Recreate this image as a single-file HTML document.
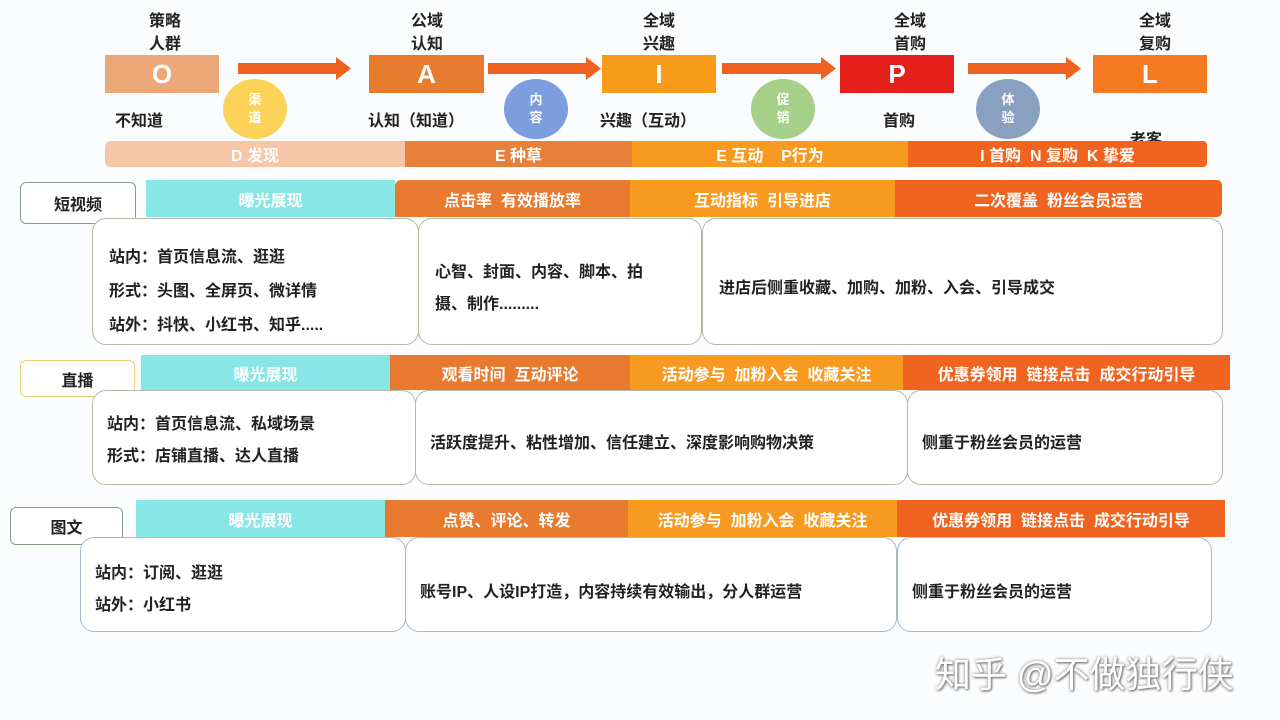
<!DOCTYPE html>
<html><head><meta charset="utf-8"><style>
body{margin:0;width:1280px;height:720px;background:#fbfcfd;position:relative;overflow:hidden;font-family:"Liberation Sans","Noto Sans CJK SC",sans-serif;}
.a{position:absolute;}
.t{position:absolute;font-size:16px;color:#222;font-weight:bold;}
.tc{position:absolute;font-size:16px;color:#222;font-weight:bold;text-align:center;line-height:23px;}
.box{position:absolute;color:#fff;font-size:26px;font-weight:bold;display:flex;align-items:center;justify-content:center;}
.bar{position:absolute;color:#fff;font-size:16px;font-weight:bold;display:flex;align-items:center;justify-content:center;}
.cir{position:absolute;width:64px;height:60px;border-radius:50%;color:#fff;font-size:13px;font-weight:bold;display:flex;align-items:center;justify-content:center;text-align:center;line-height:18px;}
.cb{position:absolute;border:1.5px solid #b8b8a8;border-radius:14px;background:#fff;box-sizing:border-box;font-size:16px;color:#222;font-weight:bold;}
.lb{position:absolute;border:1.5px solid #8a9a8a;border-radius:6px;background:#fff;box-sizing:border-box;font-size:16px;font-weight:bold;color:#222;display:flex;align-items:center;justify-content:center;}
</style></head><body>
<div class="tc" style="left:135px;top:10px;width:60px">策略<br>人群</div>
<div class="tc" style="left:397px;top:10px;width:60px">公域<br>认知</div>
<div class="tc" style="left:629px;top:10px;width:60px">全域<br>兴趣</div>
<div class="tc" style="left:880px;top:10px;width:60px">全域<br>首购</div>
<div class="tc" style="left:1125px;top:10px;width:60px">全域<br>复购</div>
<div class="box" style="left:105px;top:55px;width:114px;height:38px;background:#eea878">O</div>
<div class="box" style="left:369px;top:55px;width:115px;height:38px;background:#e87c2e">A</div>
<div class="box" style="left:602px;top:55px;width:114px;height:38px;background:#f89a1a">I</div>
<div class="box" style="left:840px;top:55px;width:114px;height:38px;background:#e5201a">P</div>
<div class="box" style="left:1093px;top:55px;width:114px;height:38px;background:#f57a22">L</div>
<svg class="a" style="left:0;top:0" width="1280" height="120">
<g fill="#f0601e">
<rect x="238" y="63" width="98" height="11"/><polygon points="336,57 351,68.5 336,80"/>
<rect x="488" y="63" width="98" height="11"/><polygon points="586,57 601,68.5 586,80"/>
<rect x="722" y="63" width="99" height="11"/><polygon points="821,57 836,68.5 821,80"/>
<rect x="968" y="63" width="98" height="11"/><polygon points="1066,57 1081,68.5 1066,80"/>
</g></svg>
<div class="cir" style="left:223px;top:79px;background:#fcd258">渠<br>道</div>
<div class="cir" style="left:504px;top:79px;background:#7c9ede">内<br>容</div>
<div class="cir" style="left:751px;top:79px;background:#a6d088">促<br>销</div>
<div class="cir" style="left:976px;top:79px;background:#8aa0c0">体<br>验</div>
<div class="t" style="left:115px;top:107px">不知道</div>
<div class="t" style="left:368px;top:107px">认知（知道）</div>
<div class="t" style="left:600px;top:107px">兴趣（互动）</div>
<div class="t" style="left:883px;top:107px">首购</div>
<div class="t" style="left:1130px;top:126px">老客</div>
<div class="bar" style="left:105px;top:141px;width:300px;height:26px;background:#f6c6a6;border-radius:6px 0 0 6px">D 发现</div>
<div class="bar" style="left:405px;top:141px;width:227px;height:26px;background:#e8803a">E 种草</div>
<div class="bar" style="left:632px;top:141px;width:276px;height:26px;background:#f89a20">E 互动&nbsp;&nbsp;&nbsp;&nbsp;P行为</div>
<div class="bar" style="left:908px;top:141px;width:299px;height:26px;background:#f06420;border-radius:0 4px 4px 0">I 首购&nbsp; N 复购&nbsp; K 挚爱</div>

<div class="lb" style="left:20px;top:182px;width:116px;height:42px">短视频</div>
<div class="bar" style="left:146px;top:180px;width:249px;height:37px;background:#88e6e6">曝光展现</div>
<div class="bar" style="left:395px;top:180px;width:235px;height:37px;background:#e87a30;border-radius:6px 0 0 0">点击率&nbsp; 有效播放率</div>
<div class="bar" style="left:630px;top:180px;width:265px;height:37px;background:#f89a20">互动指标&nbsp; 引导进店</div>
<div class="bar" style="left:895px;top:180px;width:327px;height:37px;background:#f06420;border-radius:0 5px 5px 0">二次覆盖&nbsp; 粉丝会员运营</div>
<div class="cb" style="left:92px;top:218px;width:327px;height:127px;padding:22px 0 0 16px;line-height:34px">站内：首页信息流、逛逛<br>形式：头图、全屏页、微详情<br>站外：抖快、小红书、知乎.....</div>
<div class="cb" style="left:418px;top:218px;width:284px;height:127px;padding:38px 0 0 16px;line-height:32px">心智、封面、内容、脚本、拍<br>摄、制作.........</div>
<div class="cb" style="left:702px;top:218px;width:521px;height:127px;padding:55px 0 0 16px">进店后侧重收藏、加购、加粉、入会、引导成交</div>

<div class="lb" style="left:20px;top:360px;width:115px;height:37px;border-color:#e8d070">直播</div>
<div class="bar" style="left:141px;top:355px;width:249px;height:35px;background:#88e6e6">曝光展现</div>
<div class="bar" style="left:390px;top:355px;width:240px;height:35px;background:#e87a30">观看时间&nbsp; 互动评论</div>
<div class="bar" style="left:630px;top:355px;width:273px;height:35px;background:#f89a20">活动参与&nbsp; 加粉入会&nbsp; 收藏关注</div>
<div class="bar" style="left:903px;top:355px;width:327px;height:35px;background:#f06420">优惠券领用&nbsp; 链接点击&nbsp; 成交行动引导</div>
<div class="cb" style="left:92px;top:390px;width:324px;height:95px;padding:18px 0 0 14px;line-height:32px">站内：首页信息流、私域场景<br>形式：店铺直播、达人直播</div>
<div class="cb" style="left:415px;top:390px;width:493px;height:95px;padding:38px 0 0 14px">活跃度提升、粘性增加、信任建立、深度影响购物决策</div>
<div class="cb" style="left:907px;top:390px;width:316px;height:95px;padding:38px 0 0 14px">侧重于粉丝会员的运营</div>

<div class="lb" style="left:10px;top:507px;width:113px;height:38px">图文</div>
<div class="bar" style="left:136px;top:500px;width:249px;height:37px;background:#88e6e6">曝光展现</div>
<div class="bar" style="left:385px;top:500px;width:243px;height:37px;background:#e87a30">点赞、评论、转发</div>
<div class="bar" style="left:628px;top:500px;width:269px;height:37px;background:#f89a20">活动参与&nbsp; 加粉入会&nbsp; 收藏关注</div>
<div class="bar" style="left:897px;top:500px;width:328px;height:37px;background:#f06420">优惠券领用&nbsp; 链接点击&nbsp; 成交行动引导</div>
<div class="cb" style="left:80px;top:537px;width:326px;height:95px;padding:20px 0 0 14px;line-height:32px;border-color:#a8b8d0">站内：订阅、逛逛<br>站外：小红书</div>
<div class="cb" style="left:405px;top:537px;width:492px;height:95px;padding:40px 0 0 14px;border-color:#a8b8d0">账号IP、人设IP打造，内容持续有效输出，分人群运营</div>
<div class="cb" style="left:897px;top:537px;width:315px;height:95px;padding:40px 0 0 14px;border-color:#a8b8d0">侧重于粉丝会员的运营</div>

<div class="a" style="left:935px;top:646px;font-size:36px;color:#fff;text-shadow:0 0 3px #888,1px 1px 2px #666;white-space:nowrap">知乎 @不做独行侠</div>
</body></html>
